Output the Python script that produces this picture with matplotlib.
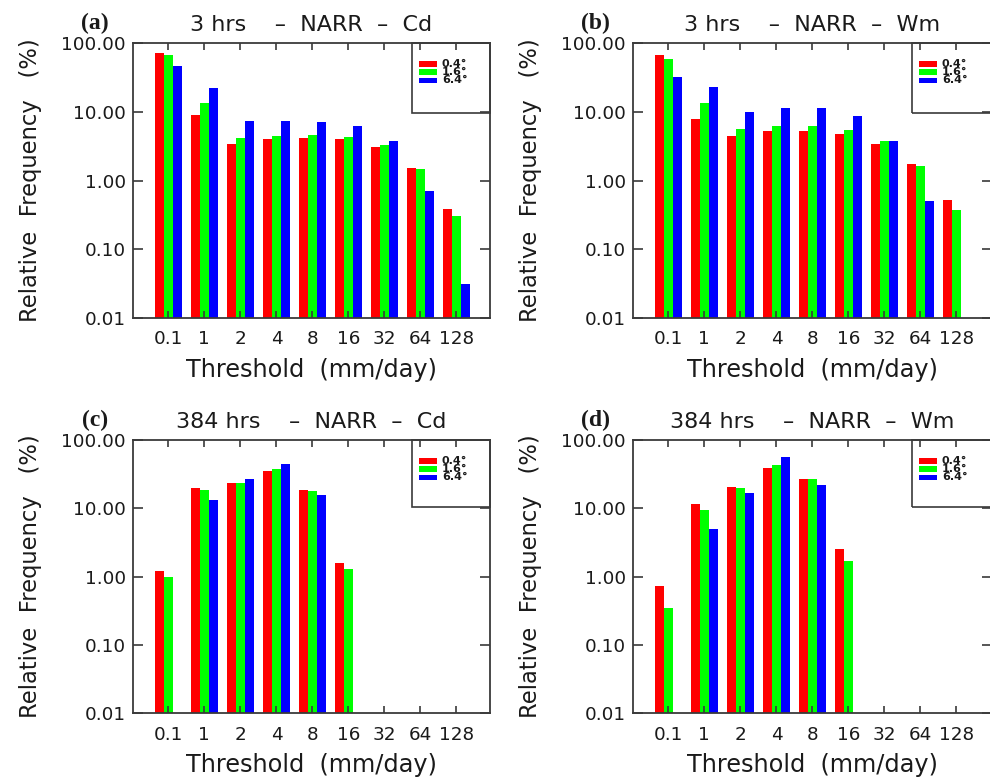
import numpy as np
import matplotlib
matplotlib.use("Agg")
import matplotlib.pyplot as plt
from matplotlib.patches import Rectangle

thresholds = ["0.1", "1", "2", "4", "8", "16", "32", "64", "128"]
resolutions = ["0.4°", "1.6°", "6.4°"]
colors = ["#ff0000", "#00ff00", "#0000ff"]

# panel (a) 3 hrs - NARR - Cd
a_04 = [71.4, 9.1, 3.44, 4.07, 4.17, 4.0, 3.07, 1.53, 0.38]
a_16 = [66.0, 13.4, 4.17, 4.45, 4.56, 4.3, 3.25, 1.48, 0.304]
a_64 = [47.0, 21.9, 7.3, 7.3, 6.98, 6.3, 3.72, 0.698, 0.0308]
# panel (b) 3 hrs - NARR - Wm
b_04 = [67.5, 7.8, 4.45, 5.2, 5.27, 4.82, 3.44, 1.75, 0.52]
b_16 = [59.0, 13.5, 5.57, 6.24, 6.24, 5.5, 3.72, 1.64, 0.368]
b_64 = [32.5, 23.2, 9.9, 11.4, 11.2, 8.74, 3.72, 0.51, None]
# panel (c) 384 hrs - NARR - Cd
c_04 = [1.2, 20.0, 23.8, 35.6, 18.8, 1.6, None, None, None]
c_16 = [0.99, 18.5, 23.8, 37.6, 18.1, 1.3, None, None, None]
c_64 = [None, 13.2, 27.2, 44.0, 15.8, None, None, None, None]
# panel (d) 384 hrs - NARR - Wm
d_04 = [0.72, 11.6, 20.3, 38.5, 27.2, 2.57, None, None, None]
d_16 = [0.348, 9.35, 20.0, 42.6, 26.5, 1.68, None, None, None]
d_64 = [None, 5.04, 16.9, 56.4, 21.9, None, None, None, None]

panels = [
    ("(a)", "3 hrs    \u2013  NARR  \u2013  Cd", [a_04, a_16, a_64]),
    ("(b)", "3 hrs    \u2013  NARR  \u2013  Wm", [b_04, b_16, b_64]),
    ("(c)", "384 hrs    \u2013  NARR  \u2013  Cd", [c_04, c_16, c_64]),
    ("(d)", "384 hrs    \u2013  NARR  \u2013  Wm", [d_04, d_16, d_64]),
]

W, H = 990, 778
fig = plt.figure(figsize=(W / 100, H / 100), dpi=100)
plt.rcParams['font.family'] = ['DejaVu Sans']

# axes boxes in pixels: left, top, right, bottom
boxes = [(133, 43, 490, 318), (633, 43, 992, 318),
         (133, 440, 490, 713), (633, 440, 992, 713)]
legend_h = [70, 70, 67, 67]

axis_col = "#3a3a3a"
txt_col = "#1a1a1a"
width = 0.25
x = np.arange(len(thresholds))

for (tag, title, series), (l, t, r, b), lh in zip(panels, boxes, legend_h):
    ax = fig.add_axes([l / W, 1 - b / H, (r - l) / W, (b - t) / H])
    hpx = b - t
    wpx = r - l
    for k, (vals, col) in enumerate(zip(series, colors)):
        v = np.array([np.nan if q is None else q for q in vals], dtype=float)
        ax.bar(x + (k - 1) * width, v, width=width, color=col, linewidth=0,
               label=resolutions[k])
    ax.set_yscale('log')
    ax.set_ylim(0.01, 100)
    xr = 8.93 + (wpx - 357) / 36.0
    ax.set_xlim(-0.98, xr)
    ax.set_yticks([0.01, 0.1, 1, 10, 100])
    ax.set_yticklabels(["0.01", "0.10", "1.00", "10.00", "100.00"])
    ax.yaxis.set_minor_locator(matplotlib.ticker.NullLocator())
    ax.set_xticks(x)
    ax.set_xticklabels(thresholds)
    ax.tick_params(axis='both', direction='in', top=True, right=True,
                   color=axis_col, labelcolor=txt_col, labelsize=13.2, width=1.2)
    ax.tick_params(axis='y', length=7, pad=5)
    ax.tick_params(axis='x', length=5, pad=9)
    for s in ax.spines.values():
        s.set_color(axis_col)
        s.set_linewidth(1.3)
    ax.text(0.5, 1 + 18 / hpx, title, transform=ax.transAxes, ha='center',
            va='center', fontsize=16, color=txt_col)
    ax.text(-38 / wpx, 1 + 20 / hpx, tag, transform=ax.transAxes,
            ha='center', va='center', fontsize=17, fontweight='bold',
            family='Liberation Serif', color=txt_col)
    ax.text(-103 / wpx, 0.5, "Relative  Frequency   (%)", transform=ax.transAxes,
            rotation=90, ha='center', va='center', fontsize=16.3, color=txt_col)
    ax.text(0.5, -52 / hpx, "Threshold  (mm/day)", transform=ax.transAxes,
            ha='center', va='center', fontsize=17.3, color=txt_col)
    # legend (drawn in axes-pixel offsets)
    bx0 = 279 / wpx
    ax.add_patch(Rectangle((bx0, 1 - lh / hpx), 1 - bx0, lh / hpx,
                           transform=ax.transAxes, fill=False,
                           edgecolor=axis_col, linewidth=1.2, zorder=5,
                           clip_on=False))
    for k, (lab, col) in enumerate(zip(resolutions, colors)):
        yc = 1 - (21 + 8.2 * k) / hpx
        ax.add_patch(Rectangle((286 / wpx, yc - 2.8 / hpx), 18 / wpx, 5.6 / hpx,
                               transform=ax.transAxes, facecolor=col,
                               edgecolor='none', zorder=6))
        ax.text(309 / wpx, yc, lab, transform=ax.transAxes, ha='left',
                va='center', fontsize=8, fontweight='bold', color=txt_col,
                zorder=6)

fig.savefig("out.png", dpi=100)
